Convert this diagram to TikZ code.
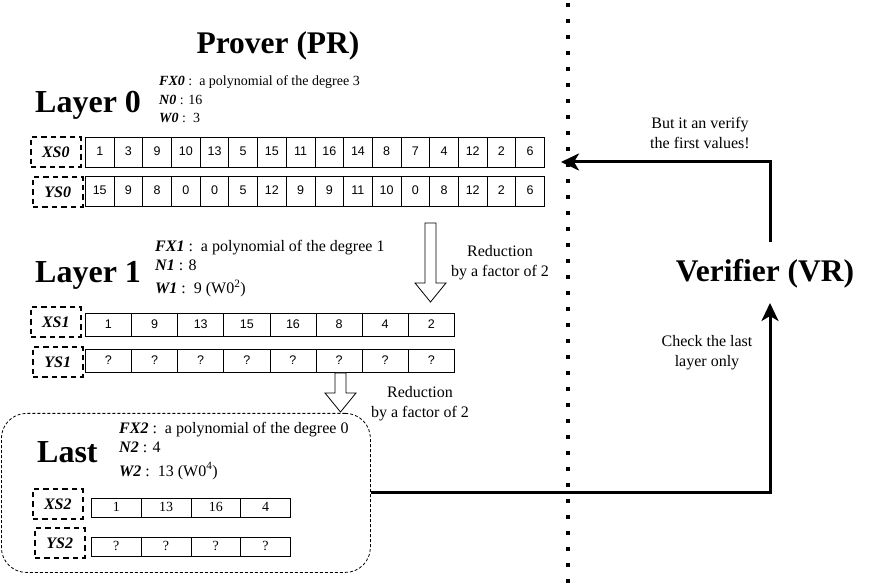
\documentclass[tikz,border=0pt]{standalone}
\usepackage{fontspec}
\setmainfont{Liberation Serif}
\newfontfamily\arialf{Liberation Sans}
\usetikzlibrary{arrows.meta,calc}
\tikzset{
  cellbase/.style={draw, line width=0.8pt, inner sep=0pt, anchor=north west, text height=0.72em, text depth=0pt},
  cellA/.style={cellbase, minimum width=28.69pt, minimum height=30pt, font=\arialf\fontsize{12.5}{14}\selectfont},
  cellB/.style={cellbase, minimum width=46.125pt, minimum height=23pt, font=\arialf\fontsize{12.5}{14}\selectfont},
  cellC/.style={cellbase, minimum width=49.75pt, minimum height=19pt, text height=0.66em, font=\fontsize{14}{16}\selectfont},
  lab/.style={draw, line width=1.6pt, dash pattern=on 5.5pt off 4pt, inner sep=0pt, anchor=north west, minimum width=50pt, minimum height=30pt, font=\bfseries\itshape\fontsize{16}{19}\selectfont},
  layertitle/.style={anchor=base west, inner sep=0pt, font=\bfseries\fontsize{32}{36}\selectfont},
  bigtitle/.style={anchor=base, inner sep=0pt, font=\bfseries\fontsize{31.5}{36}\selectfont},
  infoA/.style={anchor=base west, inner sep=0pt, font=\fontsize{14}{17}\selectfont},
  infoB/.style={anchor=base west, inner sep=0pt, font=\fontsize{16}{19}\selectfont},
  note/.style={align=center, inner sep=0pt, font=\fontsize{16}{20}\selectfont},
  hollow/.style={draw, line width=0.8pt, fill=white},
  vline/.style={line width=3pt, -{Stealth[length=18pt,width=17pt,inset=5pt]}},
}
\newcommand{\bi}[1]{\textbf{\textit{#1}}}
\begin{document}
\begin{tikzpicture}[x=1pt,y=-1pt]
\useasboundingbox (0,0) rectangle (871,585);

% dotted separator
\draw[line width=4pt, dash pattern=on 4pt off 12pt] (568,3) -- (568,585);

% titles
\node[bigtitle] (pr) at (278,54) {Prover (PR)};
\node[bigtitle] (vr) at (765,282) {Verifier (VR)};

% Layer 0
\node[layertitle] (l0) at (35,113) {Layer 0};
\node[infoA] (fx0) at (159,86) {\bi{FX0} :\ \ a polynomial of the degree 3};
\node[infoA] (n0) at (159,105) {\bi{N0} : 16};
\node[infoA] (w0) at (159,123) {\bi{W0} :\ \ 3};
\node[lab] (xs0) at (30,136) {XS0};
\node[lab] (ys0) at (32,176) {YS0};
\foreach \v [count=\i from 0] in {1,3,9,10,13,5,15,11,16,14,8,7,4,12,2,6}
  \node[cellA] (xsz\i) at ({85+\i*28.69},137) {\v};
\foreach \v [count=\i from 0] in {15,9,8,0,0,5,12,9,9,11,10,0,8,12,2,6}
  \node[cellA] (ysz\i) at ({85+\i*28.69},176) {\v};

% reduction arrow 1
\draw[hollow] (425,223) -- (436,223) -- (436,283) -- (446,283) -- (430.5,302) -- (415,283) -- (425,283) -- cycle;
\node[note] (red1) at (500,263) {Reduction\\by a factor of 2};

% Layer 1
\node[layertitle] (l1) at (35,283) {Layer 1};
\node[infoB] (fx1) at (155,252) {\bi{FX1} :\ \ a polynomial of the degree 1};
\node[infoB] (n1) at (155,271) {\bi{N1} : 8};
\node[infoB] (w1) at (155,294) {\bi{W1} :\ \ 9 (W0\textsuperscript{2})};
\node[lab] (xs1) at (30,306) {XS1};
\node[lab] (ys1) at (32,346) {YS1};
\foreach \v [count=\i from 0] in {1,9,13,15,16,8,4,2}
  \node[cellB] (xso\i) at ({85+\i*46.125},313) {\v};
\foreach \i in {0,...,7}
  \node[cellB] (yso\i) at ({85+\i*46.125},349) {?};

% reduction arrow 2
\draw[hollow] (335,373) -- (346,373) -- (346,393) -- (356,393) -- (340.5,412) -- (325,393) -- (335,393) -- cycle;
\node[note] (red2) at (420,404) {Reduction\\by a factor of 2};

% Last layer
\node[draw, line width=0.8pt, dash pattern=on 3pt off 2pt, rounded corners=25pt, minimum width=369pt, minimum height=159pt, inner sep=0pt, anchor=north west] (lastbox) at (1,413) {};
\node[layertitle] (l2) at (37,463) {Last};
\node[infoB] (fx2) at (119,434) {\bi{FX2} :\ \ a polynomial of the degree 0};
\node[infoB] (n2) at (119,453) {\bi{N2} : 4};
\node[infoB] (w2) at (119,476) {\bi{W2} :\ \ 13 (W0\textsuperscript{4})};
\node[lab] (xs2) at (32,488) {XS2};
\node[lab] (ys2) at (34,527) {YS2};
\foreach \v [count=\i from 0] in {1,13,16,4}
  \node[cellC] (xst\i) at ({91+\i*49.75},498) {\v};
\foreach \i in {0,...,3}
  \node[cellC] (yst\i) at ({91+\i*49.75},537) {?};

% verifier connectors
\coordinate (vrin) at (770,303);
\coordinate (vrout) at (770,242);
\coordinate (prin) at (561,162);
\draw[vline] (lastbox.east) -| (vrin);
\draw[vline] (vrout) |- (prin);
\node[note] (but) at (700,133) {But it an verify\\the first values!};
\node[note] (chk) at (707,353) {Check the last\\layer only};
\end{tikzpicture}
\end{document}
